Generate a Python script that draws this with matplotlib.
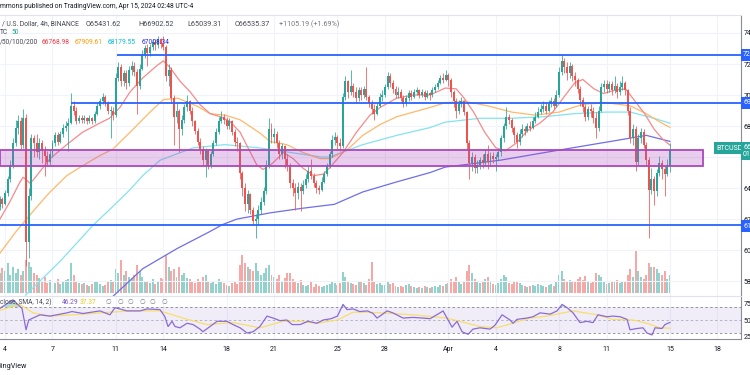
import numpy as np
import pandas as pd
import matplotlib
matplotlib.use("Agg")
import matplotlib.pyplot as plt
import matplotlib.dates as mdates
from matplotlib.patches import Rectangle

plt.rcParams["font.family"] = ["Roboto", "DejaVu Sans"]

W, H = 750, 375

# BTCUSD 4h candles (UTC-4), prices in thousands of USD
first_bar = "2024-03-03 16:00"
first_open = 62.8
closes = [
    63.3, 63.0,                                  # Mar 3 (16h, 20h)
    63.7, 64.6, 65.5, 66.9, 67.9, 68.3,          # Mar 4
    66.8, 68.5, 60.5, 63.5, 67.2, 66.9,          # Mar 5
    66.3, 66.9, 66.4, 66.1, 65.7, 66.2,          # Mar 6
    66.9, 67.4, 67.0, 67.5, 67.9, 68.0,          # Mar 7
    68.2, 69.3, 69.0, 68.3, 68.5, 68.4,          # Mar 8
    68.5, 68.3, 68.5, 68.3, 68.8, 69.3,          # Mar 9
    69.6, 69.9, 69.5, 69.0, 69.0, 68.7,          # Mar 10
    71.1, 71.8, 70.9, 71.4, 70.8, 71.6,          # Mar 11
    71.9, 71.5, 70.6, 71.7, 72.6, 73.0,          # Mar 12
    72.7, 73.1, 73.4, 73.2, 73.6, 73.3,          # Mar 13
    73.1, 71.2, 71.6, 69.8, 68.6, 69.0,          # Mar 14
    67.8, 68.4, 69.2, 69.6, 69.0, 68.3,          # Mar 15
    67.7, 67.0, 66.5, 65.8, 66.4, 65.5,          # Mar 16
    66.2, 66.9, 67.6, 68.3, 68.6, 68.4,          # Mar 17
    68.0, 68.3, 67.6, 67.0, 66.9, 65.0,          # Mar 18
    64.0, 63.0, 63.6, 62.6, 61.9, 62.0,          # Mar 19
    62.6, 63.1, 63.8, 65.5, 67.8, 67.3,          # Mar 20
    67.5, 66.9, 66.2, 66.7, 65.9, 65.5,          # Mar 21
    64.3, 64.0, 63.7, 64.1, 63.8, 64.2,          # Mar 22
    64.6, 65.1, 64.8, 64.3, 64.0, 63.9,          # Mar 23
    64.4, 64.9, 65.4, 66.2, 67.1, 67.3,          # Mar 24
    66.9, 66.7, 69.9, 70.9, 70.2, 70.6,          # Mar 25
    70.2, 69.8, 70.3, 70.0, 70.4, 69.9,          # Mar 26
    69.5, 69.1, 68.8, 69.3, 69.9, 70.0,          # Mar 27
    70.5, 71.2, 70.8, 70.4, 70.0, 70.2,          # Mar 28
    69.8, 69.4, 69.8, 70.1, 69.9, 70.2,          # Mar 29
    70.3, 70.0, 70.2, 69.9, 70.1, 70.0,          # Mar 30
    70.3, 70.5, 70.8, 71.1, 71.0, 71.3,          # Mar 31
    71.0, 70.2, 69.6, 69.0, 69.4, 69.6,          # Apr 1
    68.9, 66.9, 65.6, 66.0, 65.3, 65.5,          # Apr 2
    65.8, 65.6, 66.2, 65.7, 66.1, 65.9,          # Apr 3
    66.0, 66.3, 67.2, 68.0, 68.6, 68.4,          # Apr 4
    67.9, 67.4, 67.0, 67.5, 67.8, 67.7,          # Apr 5
    68.0, 67.9, 68.3, 68.6, 68.9, 69.1,          # Apr 6
    69.3, 69.0, 69.4, 69.6, 69.3, 70.0,          # Apr 7
    71.5, 72.2, 71.8, 71.4, 71.9, 71.2,          # Apr 8
    71.0, 70.4, 69.7, 69.2, 68.6, 69.1,          # Apr 9
    69.0, 68.5, 67.9, 69.0, 70.5, 70.7,          # Apr 10
    70.4, 70.7, 70.3, 70.6, 70.2, 70.5,          # Apr 11
    70.8, 70.3, 69.0, 67.2, 67.8, 65.7,          # Apr 12
    67.2, 67.6, 66.8, 65.8, 63.9, 64.6,          # Apr 13
    63.8, 65.0, 65.6, 65.2, 64.9, 65.43,         # Apr 14
    66.54,                                       # Apr 15
]
highs = [
    63.5, 63.4,
    63.9, 64.8, 65.8, 67.2, 68.4, 68.7,
    68.6, 69.1, 68.8, 64.0, 67.5, 67.4,
    67.5, 67.2, 67.1, 66.7, 66.4, 66.5,
    67.1, 67.6, 67.6, 67.7, 68.1, 68.3,
    68.5, 70.1, 69.6, 69.2, 68.7, 68.7,
    68.7, 68.6, 68.7, 68.6, 69.0, 69.5,
    69.8, 70.1, 70.0, 69.6, 69.3, 69.2,
    71.4, 72.1, 72.0, 71.6, 71.6, 71.9,
    72.2, 72.1, 71.7, 72.0, 72.9, 73.2,
    73.3, 73.3, 73.6, 73.6, 73.8, 73.7,
    73.8, 73.2, 72.0, 71.8, 70.0, 69.5,
    69.1, 68.7, 69.4, 70.0, 69.7, 69.2,
    68.4, 67.9, 67.2, 66.7, 66.6, 66.5,
    66.4, 67.1, 67.9, 68.6, 69.0, 68.8,
    68.6, 68.5, 68.4, 67.8, 67.3, 67.0,
    65.1, 64.3, 63.9, 63.7, 62.8, 62.3,
    62.9, 63.4, 64.1, 65.8, 68.5, 68.2,
    67.9, 67.7, 67.1, 66.9, 66.8, 66.2,
    65.6, 64.6, 64.3, 64.4, 64.3, 64.5,
    64.9, 65.4, 65.9, 65.0, 64.5, 64.2,
    64.7, 65.1, 65.6, 66.4, 67.4, 67.6,
    67.4, 67.2, 70.1, 71.2, 71.0, 71.6,
    70.8, 70.5, 70.5, 70.5, 70.6, 71.8,
    70.0, 69.7, 69.4, 69.5, 70.1, 70.3,
    70.7, 71.5, 71.4, 71.0, 70.6, 70.5,
    70.4, 70.0, 70.0, 70.3, 70.3, 70.4,
    70.5, 70.4, 70.4, 70.3, 70.3, 70.2,
    70.5, 70.7, 71.0, 71.3, 71.4, 71.6,
    71.4, 71.1, 70.3, 69.8, 69.7, 69.9,
    69.7, 69.0, 67.1, 66.3, 66.2, 65.8,
    66.0, 66.2, 66.5, 66.8, 66.3, 66.3,
    66.2, 66.5, 67.4, 68.2, 69.2, 68.8,
    68.5, 68.0, 67.6, 67.8, 68.1, 68.0,
    68.2, 68.3, 68.6, 68.9, 69.2, 69.4,
    69.6, 69.5, 69.7, 69.9, 69.8, 70.3,
    71.8, 72.6, 72.4, 72.1, 72.1, 72.0,
    71.5, 71.1, 70.6, 69.9, 69.4, 69.3,
    69.4, 69.2, 68.9, 69.3, 70.8, 71.0,
    71.0, 70.9, 70.9, 71.2, 70.8, 70.9,
    71.2, 70.9, 70.4, 69.2, 68.1, 68.0,
    67.5, 67.9, 67.8, 67.0, 66.0, 65.3,
    64.8, 65.2, 66.1, 65.8, 65.4, 65.9,
    66.90,
]
lows = [
    62.6, 62.7,
    62.9, 63.5, 64.4, 65.3, 66.7, 67.5,
    66.5, 66.6, 59.0, 59.5, 63.2, 66.0,
    66.0, 65.9, 65.6, 64.8, 65.4, 65.5,
    66.0, 66.7, 66.8, 66.9, 67.3, 67.7,
    66.4, 68.1, 68.7, 68.1, 68.2, 68.2,
    68.2, 68.1, 68.2, 68.1, 68.2, 68.7,
    69.1, 69.4, 69.3, 68.8, 67.2, 68.4,
    68.6, 70.9, 70.6, 70.6, 70.4, 70.6,
    71.3, 71.2, 68.8, 70.4, 71.6, 72.4,
    71.9, 72.5, 72.9, 72.9, 73.0, 73.0,
    72.9, 70.9, 70.6, 69.5, 66.8, 68.2,
    66.3, 67.4, 68.2, 69.0, 68.8, 68.0,
    67.5, 66.8, 66.2, 65.5, 64.7, 65.2,
    65.3, 66.1, 66.8, 67.5, 68.2, 68.1,
    67.8, 67.8, 67.4, 66.7, 66.4, 64.6,
    63.5, 62.5, 62.4, 62.3, 61.6, 60.8,
    61.6, 62.3, 62.9, 63.6, 65.3, 66.9,
    66.9, 66.6, 65.9, 65.9, 65.3, 65.1,
    64.0, 63.5, 62.6, 63.3, 62.5, 63.6,
    64.0, 64.4, 64.6, 64.1, 63.7, 63.6,
    63.8, 64.3, 64.8, 65.3, 66.0, 66.8,
    66.5, 66.4, 66.6, 69.7, 69.8, 70.0,
    69.9, 69.5, 69.6, 69.7, 69.8, 69.7,
    69.2, 68.8, 68.4, 68.7, 69.2, 69.6,
    69.9, 70.4, 70.5, 70.1, 69.8, 69.8,
    69.6, 69.2, 69.3, 69.6, 69.7, 69.8,
    70.0, 69.8, 69.9, 69.7, 69.8, 69.7,
    69.9, 70.2, 70.4, 70.7, 70.8, 70.9,
    70.6, 69.9, 69.2, 68.5, 68.8, 69.2,
    68.7, 66.5, 64.6, 65.1, 65.0, 65.0,
    65.2, 65.3, 65.4, 65.2, 65.4, 65.6,
    65.1, 65.8, 66.1, 67.0, 67.8, 68.1,
    67.6, 66.9, 66.6, 66.8, 67.3, 67.4,
    67.6, 67.7, 67.8, 68.2, 68.5, 68.8,
    68.9, 68.8, 68.9, 69.2, 69.1, 69.2,
    69.9, 71.3, 71.4, 71.0, 71.1, 70.9,
    70.6, 70.1, 69.3, 68.9, 68.3, 68.4,
    68.6, 68.2, 67.2, 67.7, 68.9, 70.2,
    70.1, 70.2, 70.0, 70.1, 69.8, 70.0,
    70.3, 70.0, 68.7, 66.9, 66.8, 65.1,
    65.5, 66.9, 66.6, 65.5, 60.8, 63.6,
    62.9, 63.5, 64.8, 64.6, 63.5, 64.8,
    65.04,
]
volumes = [
    20, 25,
    22, 30, 18, 26, 20, 24,
    18, 22, 33, 31, 26, 20,
    18, 15, 12, 16, 10, 13,
    12, 10, 14, 9, 11, 13,
    14, 30, 18, 12, 10, 9,
    10, 8, 7, 9, 12, 11,
    9, 7, 8, 11, 13, 12,
    24, 20, 33, 18, 22, 16,
    15, 18, 28, 22, 16, 12,
    12, 10, 14, 9, 11, 15,
    14, 38, 26, 22, 24, 16,
    26, 18, 20, 15, 14, 12,
    10, 14, 12, 16, 18, 12,
    10, 12, 9, 14, 11, 10,
    8, 7, 10, 12, 9, 28,
    38, 30, 26, 24, 22, 30,
    22, 18, 20, 25, 28, 18,
    16, 14, 18, 12, 15, 20,
    20, 14, 12, 10, 13, 8,
    7, 8, 12, 6, 9, 7,
    6, 7, 8, 9, 12, 10,
    8, 10, 21, 16, 12, 10,
    9, 8, 11, 12, 10, 8,
    14, 31, 12, 9, 10, 8,
    8, 12, 9, 10, 7, 6,
    7, 6, 8, 9, 7, 6,
    5, 6, 5, 7, 6, 5,
    6, 7, 6, 8, 7, 9,
    10, 14, 12, 16, 11, 9,
    12, 22, 28, 20, 14, 12,
    10, 12, 14, 16, 11, 9,
    8, 10, 14, 18, 16, 10,
    9, 12, 11, 10, 8, 7,
    6, 7, 8, 7, 9, 8,
    7, 6, 8, 9, 7, 12,
    18, 22, 14, 12, 13, 11,
    12, 14, 16, 13, 17, 12,
    10, 12, 20, 18, 16, 11,
    9, 10, 12, 11, 13, 10,
    11, 12, 18, 24, 16, 43,
    22, 16, 14, 18, 30, 26,
    26, 24, 20, 18, 22, 14,
    18,
]

# moving averages, sampled (days since Mar 1 00:00, price in k)
sma20_t = [2.68, 3.3, 3.95, 4.15, 4.6, 5.0, 5.85, 6.9, 7.9, 9.0, 9.6, 10.26, 10.9, 11.7,
           12.6, 13.0, 13.4, 14.05, 14.7, 15.3, 15.95, 16.6, 17.2, 17.85, 18.5, 18.9, 19.3,
           19.9, 20.6, 21.2, 21.8, 22.5, 23.1, 23.5, 24.35, 25.2, 26.05, 26.7, 27.75, 28.8,
           29.85, 30.8, 31.5, 32.0, 32.6, 33.3, 34.0, 34.6, 35.3, 36.0, 36.8, 37.6, 38.4,
           39.0, 39.5, 40.2, 40.8, 41.5, 42.2, 42.8, 43.4, 44.0, 44.5, 45.0]
sma20_v = [62.0, 63.1, 64.4, 64.7, 64.3, 64.8, 65.9, 66.8, 67.6, 68.2, 68.5, 69.2, 70.2, 71.1,
           71.9, 72.2, 71.8, 70.9, 70.2, 69.4, 68.8, 68.6, 68.3, 67.6, 66.3, 65.5, 65.2,
           65.6, 66.3, 65.9, 65.3, 64.8, 64.9, 65.3, 66.3, 67.6, 68.7, 69.2, 69.8, 70.0,
           70.0, 70.45, 70.4, 69.8, 68.9, 67.6, 66.6, 66.4, 66.9, 67.7, 68.2, 68.9, 70.0,
           70.8, 71.0, 70.4, 70.1, 70.3, 70.4, 69.6, 68.8, 67.8, 67.2, 66.77]
sma50_t = [2.68, 3.7, 4.77, 5.8, 6.9, 8.0, 9.0, 9.8, 10.9, 12.16, 13.0, 13.9, 15.1, 15.95,
           16.9, 17.85, 19.1, 19.74, 20.8, 21.8, 22.9, 23.5, 24.6, 25.6, 26.7, 27.75, 28.8,
           29.85, 30.8, 32.0, 33.5, 35.0, 36.5, 38.0, 39.5, 41.0, 42.5, 43.5, 44.3, 45.0]
sma50_v = [59.8, 61.2, 62.5, 63.7, 64.8, 65.5, 66.1, 66.5, 67.6, 68.9, 69.7, 69.8, 69.3, 68.8,
           68.7, 68.4, 67.55, 67.0, 66.8, 66.3, 65.9, 65.9, 66.45, 67.4, 68.1, 68.6, 68.9,
           69.2, 69.5, 69.6, 69.3, 68.9, 68.7, 68.9, 69.4, 69.5, 69.3, 68.8, 68.3, 67.91]
sma100_t = [4.3, 6.5, 8.56, 9.8, 10.9, 11.7, 12.8, 14.9, 16.9, 19.0, 21.0, 23.0, 23.5, 25.6,
            27.75, 29.85, 30.8, 33.0, 35.0, 37.0, 39.0, 41.0, 42.5, 44.0, 45.0]
sma100_v = [57.1, 59.3, 61.6, 62.8, 63.9, 64.8, 65.8, 66.6, 66.8, 66.6, 66.3, 66.0, 66.0, 66.8,
            67.4, 67.9, 68.25, 68.5, 68.5, 68.6, 68.8, 68.9, 68.9, 68.5, 68.18]
sma200_t = [9.8, 11.7, 13.87, 15.95, 16.75, 17.65, 19.74, 21.8, 23.8, 25.6, 27.75, 29.85,
            30.8, 34.3, 38.0, 41.8, 43.5, 45.0]
sma200_v = [57.0, 58.8, 60.1, 61.2, 61.65, 62.0, 62.4, 62.7, 62.95, 63.75, 64.4, 65.0,
            65.35, 65.8, 66.45, 67.1, 67.4, 67.01]

# RSI(14) and its SMA(14)
rsi_t = [2.68, 3.5, 4.07, 4.33, 4.5, 4.77, 5.21, 5.84, 6.92, 7.23, 7.93, 9.0, 9.63, 9.95,
         10.7, 11.53, 11.97, 12.79, 13.1, 13.3, 13.55, 13.74, 14.05, 14.5, 14.88, 15.32,
         15.5, 15.95, 16.4, 17.02, 17.4, 17.85, 18.29, 18.67, 19.1, 19.55, 19.93, 20.37,
         20.8, 21.13, 21.64, 22.14, 22.7, 23.1, 23.6, 24.0, 24.35, 24.6, 25.0, 25.4, 25.9,
         26.25, 26.5, 26.8, 27.13, 27.5, 28.14, 28.77, 29.4, 29.85, 30.48, 30.67, 30.92,
         31.24, 31.55, 31.87, 32.25, 32.56, 33.0, 33.64, 33.95, 34.4, 34.9, 35.09, 35.34,
         35.97, 36.35, 36.8, 37.43, 37.87, 38.19, 38.5, 38.88, 39.32, 39.76, 40.14, 40.46,
         41.03, 41.4, 41.85, 42.29, 42.48, 42.93, 43.3, 43.55, 43.87, 44.06, 44.5, 44.69, 45.0]
rsi_v = [68, 81, 68, 35, 50, 53, 58, 56, 61, 63, 60, 64, 58, 69,
         64, 64, 67, 66, 55, 40, 48, 40, 38, 45, 43, 36,
         32, 40, 48, 48, 43, 38, 30, 32, 40, 56, 53, 49,
         50, 43, 43, 48, 45, 50, 52, 56, 74, 66, 67, 63, 64,
         60, 53, 58, 64, 61, 53, 54, 53, 52, 61, 64, 53,
         39, 48, 32, 28, 36, 38, 36, 42, 58, 50, 45, 51,
         53, 55, 61, 59, 64, 74, 69, 61, 46, 48, 46, 58,
         55, 56, 55, 51, 35, 37, 38, 30, 27, 38, 37, 43, 46.29]
rsi_sma_t = [2.68, 3.95, 4.77, 5.84, 7.93, 9.63, 11.09, 12.79, 14.24, 15.76, 17.4, 19.1,
             20.56, 21.64, 22.7, 24.0, 24.98, 25.87, 26.69, 28.77, 30.92, 33.0, 34.08, 36.16,
             37.24, 38.88, 40.39, 41.4, 42.67, 43.55, 44.37, 45.0]
rsi_sma_v = [65, 74, 61, 56, 59, 62, 64, 64, 53, 43, 46, 38,
             48, 48, 45, 50, 62, 62, 61, 58, 53, 40, 38, 53,
             56, 64, 58, 51, 50, 45, 38, 37.37]

# drawings
levels = [72.58, 69.48, 61.6]
level_start = [10.07, 7.17, 2.684]
zone_low, zone_high = 65.42, 66.45
zone_end = 47.09
price_ticks = [58, 60, 62, 64, 66, 68, 70, 72, 74]
date_ticks = ["2024-03-04", "2024-03-07", "2024-03-11", "2024-03-14", "2024-03-18",
              "2024-03-21", "2024-03-25", "2024-03-28", "2024-04-01", "2024-04-04",
              "2024-04-08", "2024-04-11", "2024-04-15", "2024-04-18"]
date_labels = ["4", "7", "11", "14", "18", "21", "25", "28", "Apr", "4", "8", "11", "15", "18"]

GREEN, RED = "#26a69a", "#ef5350"
GRID = "#f0f3fa"
AXIS = "#8a8d96"
TXT = "#131722"

t0 = pd.Timestamp("2024-03-01")


def day(d):
    return mdates.date2num(t0 + pd.to_timedelta(np.asarray(d, dtype=float), unit="D"))


times = pd.date_range(first_bar, periods=len(closes), freq="4h")
tc = mdates.date2num(times)
c = np.array(closes)
o = np.r_[first_open, c[:-1]]
hi = np.array(highs)
lo = np.array(lows)
cols = np.where(c >= o, GREEN, RED)

fig = plt.figure(figsize=(W / 100, H / 100), dpi=100)
fig.patch.set_facecolor("white")

ax = fig.add_axes([0, 79 / H, 741 / W, 281 / H])
vax = ax.twinx()
ax.set_zorder(vax.get_zorder() + 1)
ax.patch.set_visible(False)

xmin, xmax = day(2.684), day(49.49)

vax.bar(tc, volumes, width=0.125, color=cols, alpha=0.5, linewidth=0)
vax.set_ylim(-3, 280)
vax.set_axis_off()

ax.set_xlim(xmin, xmax)
ax.set_ylim(57.04, 75.16)
ax.set_yticks(price_ticks)
# the 66000 label sits under the last-price tag
ax.set_yticklabels(["" if v == 66 else f"{v * 1000:.2f}" for v in price_ticks])
ax.yaxis.tick_right()
ax.tick_params(axis="y", length=0, pad=2, labelsize=5, labelcolor=TXT)
ax.set_xticks(mdates.date2num(pd.to_datetime(date_ticks)))
ax.tick_params(axis="x", length=0, labelbottom=False)
ax.grid(True, color=GRID, lw=0.8)
ax.set_axisbelow(True)
for s in ["left", "top", "bottom"]:
    ax.spines[s].set_color("#e0e3eb")
    ax.spines[s].set_linewidth(0.8)
ax.spines["left"].set_visible(False)
ax.spines["right"].set_color(AXIS)

ax.plot(day(sma200_t), sma200_v, color="#6f6ee8", lw=0.9, zorder=2)
ax.plot(day(sma100_t), sma100_v, color="#84e3ee", lw=0.9, zorder=2)
ax.plot(day(sma50_t), sma50_v, color="#ffb86b", lw=0.9, zorder=2)
ax.plot(day(sma20_t), sma20_v, color="#f68a8c", lw=0.9, zorder=2)

ax.vlines(tc, lo, hi, colors=cols, lw=0.55, zorder=3)
body = np.maximum(np.abs(c - o), 0.03)
ax.bar(tc, body, bottom=np.minimum(o, c), width=0.125, color=cols, linewidth=0, zorder=3)

ax.add_patch(Rectangle((xmin, zone_low), day(zone_end) - xmin, zone_high - zone_low,
                       facecolor=(171 / 255, 71 / 255, 188 / 255, 0.27),
                       edgecolor="#ab47bc", lw=1.3, zorder=4))
for lv, st in zip(levels, level_start):
    ax.hlines(lv, day(st), xmax, color="#2962ff", lw=1.3, zorder=5)

# RSI pane
rax = fig.add_axes([0, 36 / H, 741 / W, 43 / H], sharex=ax)
rax.set_ylim(20.8, 86.9)
rax.axhspan(30, 70, color="#7e57c2", alpha=0.1, lw=0)
for lv, a in [(70, 0.8), (50, 0.5), (30, 0.8)]:
    rax.axhline(lv, color="#787b86", lw=0.7, ls=(0, (2.5, 2.5)), alpha=a)
rt = day(rsi_t)
rv = np.array(rsi_v, dtype=float)
rax.fill_between(rt, rv, 70, where=rv > 70, interpolate=True, color=GREEN, alpha=0.35, lw=0)
rax.fill_between(rt, rv, 30, where=rv < 30, interpolate=True, color=RED, alpha=0.35, lw=0)
rax.plot(day(rsi_sma_t), rsi_sma_v, color="#f6df6a", lw=0.9)
rax.plot(rt, rv, color="#8a6ad6", lw=0.9)
rax.set_yticks([25, 50, 75])
rax.yaxis.tick_right()
rax.tick_params(axis="y", length=0, pad=2, labelsize=5, labelcolor=TXT)
rax.set_xticks(mdates.date2num(pd.to_datetime(date_ticks)))
rax.set_xticklabels(date_labels)
rax.tick_params(axis="x", length=0, pad=5, labelsize=5, labelcolor=TXT)
rax.grid(True, axis="x", color=GRID, lw=0.8)
rax.set_axisbelow(True)
rax.spines["top"].set_visible(False)
rax.spines["left"].set_visible(False)
rax.spines["right"].set_color(AXIS)
rax.spines["bottom"].set_color(AXIS)
rax.set_xlim(xmin, xmax)


def ftext(x, y, s, **kw):
    kw.setdefault("fontsize", 4.8)
    kw.setdefault("color", TXT)
    kw.setdefault("va", "center")
    kw.setdefault("ha", "left")
    return fig.text(x / W, 1 - y / H, s, **kw)


# header
ftext(0, 7, "mmons published on TradingView.com, Apr 15, 2024 02:48 UTC-4", fontsize=4.8)
ftext(2, 24, "/ U.S. Dollar, 4h, BINANCE", fontsize=4.9, color="#434651")
ftext(86, 24, "O65431.62", fontsize=5.2, color="#434651")
ftext(138, 24, "H66902.52", fontsize=5.2, color="#434651")
ftext(187, 24, "L65039.31", fontsize=5.2, color="#434651")
ftext(235, 24, "C66535.37", fontsize=5.2, color="#434651")
ftext(279, 24, "+1105.19 (+1.69%)", fontsize=5.2, color="#787b86")
ftext(0, 33, "TC", color="#434651")
ftext(11, 33, "50", color=GREEN)
ftext(0, 42, "/50/100/200", color="#434651")
ftext(42, 42, "66768.98", color="#f23645")
ftext(75, 42, "67909.61", color="#ff9800")
ftext(108, 42, "68179.55", color="#00bcd4")
ftext(142, 42, "67008.34", color="#2a2ae6")

# RSI legend
ftext(0, 302, "close, SMA, 14, 2)", color="#434651")
ftext(62, 302, "46.29", color="#7e57c2")
ftext(80, 302, "37.37", color="#e6c619")
for xx in [105, 117, 128, 139, 150, 161]:
    ftext(xx, 302, "\u2205", color="#787b86")

# price tags on the right axis
for lv, yy in zip(levels, [55, 103, 226]):
    ftext(743, yy, f"{lv * 1000:.2f}", fontsize=5, color="white",
          bbox=dict(boxstyle="square,pad=0.3", fc="#2962ff", ec="none"))
ftext(716, 148, "BTCUSD", fontsize=5, color="white",
      bbox=dict(boxstyle="square,pad=0.3", fc=GREEN, ec="none"))
ftext(743, 151, "66535.37\n01:11:18", fontsize=5, color="white", linespacing=1.1,
      bbox=dict(boxstyle="square,pad=0.3", fc=GREEN, ec="none"))

# footer
ftext(27, 366, "TradingView", ha="right", fontsize=5.2)

fig.savefig("out.png", dpi=100, facecolor="white")
print("Saved: out.png")
